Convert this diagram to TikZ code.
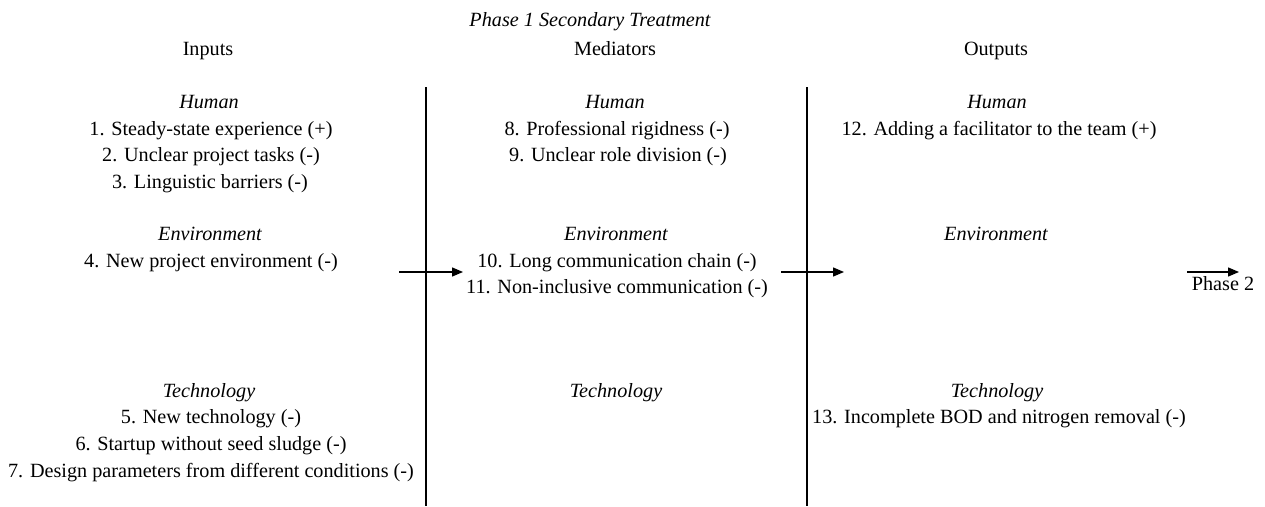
\documentclass[tikz,border=0pt]{standalone}
\usepackage{fontspec}
\setmainfont{Liberation Serif}
\usetikzlibrary{arrows.meta}
\tikzset{
  txt/.style={anchor=base,inner sep=0pt,font=\fontsize{20.2}{24}\selectfont},
  cat/.style={txt,font=\fontsize{20.2}{24}\selectfont\itshape},
  divider/.style={line width=2pt},
  flow/.style={line width=1.3pt,-{Triangle[length=11pt,width=9pt]}}
}
\begin{document}
\begin{tikzpicture}[x=1pt,y=-1pt]
\useasboundingbox (0,0) rectangle (1265,506);

% headings
\node[cat] (title) at (590,26) {Phase 1 Secondary Treatment};
\node[txt] (hin)  at (208,55) {Inputs};
\node[txt] (hmed) at (615,55) {Mediators};
\node[txt] (hout) at (996,55) {Outputs};

% column dividers
\coordinate (d1t) at (426,87);  \coordinate (d1b) at (426,506);
\coordinate (d2t) at (807,87);  \coordinate (d2b) at (807,506);
\draw[divider] (d1t) -- (d1b);
\draw[divider] (d2t) -- (d2b);

% inputs
\node[cat] (inH) at (209,108) {Human};
\node[txt] (i1) at (211,135) {1. Steady-state experience (+)};
\node[txt] (i2) at (211,161.5) {2. Unclear project tasks (-)};
\node[txt] (i3) at (210,188) {3. Linguistic barriers (-)};
\node[cat] (inE) at (210,240) {Environment};
\node[txt] (i4) at (211,267) {4. New project environment (-)};
\node[cat] (inT) at (209,397) {Technology};
\node[txt] (i5) at (211,423.5) {5. New technology (-)};
\node[txt] (i6) at (211,450.5) {6. Startup without seed sludge (-)};
\node[txt] (i7) at (211,477) {7. Design parameters from different conditions (-)};

% mediators
\node[cat] (mH) at (615,108) {Human};
\node[txt] (m8) at (617,135) {8. Professional rigidness (-)};
\node[txt] (m9) at (618,161.5) {9. Unclear role division (-)};
\node[cat] (mE) at (616,240) {Environment};
\node[txt] (m10) at (617,267) {10. Long communication chain (-)};
\node[txt] (m11) at (617,293) {11. Non-inclusive communication (-)};
\node[cat] (mT) at (616,397) {Technology};

% outputs
\node[cat] (oH) at (997,108) {Human};
\node[txt] (o12) at (999,135) {12. Adding a facilitator to the team (+)};
\node[cat] (oE) at (996,240) {Environment};
\node[cat] (oT) at (997,397) {Technology};
\node[txt] (o13) at (999,423.5) {13. Incomplete BOD and nitrogen removal (-)};

% flow arrows
\coordinate (a1s) at (399,272); \coordinate (a1e) at (463,272);
\coordinate (a2s) at (781,272); \coordinate (a2e) at (844,272);
\coordinate (a3s) at (1187,272); \coordinate (a3e) at (1239,272);
\draw[flow] (a1s) -- (a1e);
\draw[flow] (a2s) -- (a2e);
\draw[flow] (a3s) -- (a3e);
\node[txt] (p2) at (1223,290) {Phase 2};
\end{tikzpicture}
\end{document}
